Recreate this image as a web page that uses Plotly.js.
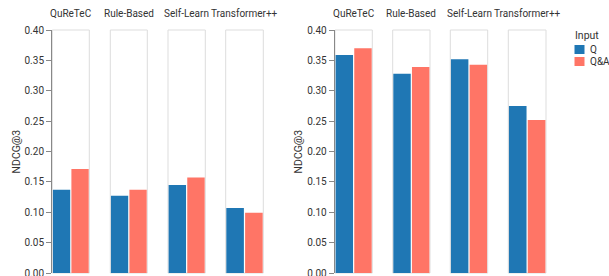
<!DOCTYPE html>
<html><head><meta charset="utf-8">
<script src="https://cdn.plot.ly/plotly-3.0.1.min.js"></script>
<style>html,body{margin:0;padding:0;background:#fff}</style>
</head><body><div id="chart" style="width:609px;height:276px"></div>
<script>
const models = ['QuReTeC','Rule-Based','Self-Learn','Transformer++'];
const inputs = ['Q','Q&A'];
const leftQ  = [0.137,0.127,0.145,0.107];
const leftQA = [0.171,0.137,0.157,0.099];
const rightQ  = [0.359,0.328,0.352,0.275];
const rightQA = [0.370,0.339,0.343,0.252];
const yTicks = [0,0.05,0.10,0.15,0.20,0.25,0.30,0.35,0.40];
const legendTitle = 'Input';

const W = 609, TOP = 30, BOT = 273;
const colors = {'Q':'#1f77b4','Q&A':'#ff7566'};
const panelPx = [[52.3,89.3],[110.3,147.3],[168,205.3],[225.7,263.3],
                 [335,372.3],[392.7,430],[450.3,487.7],[508.3,546]];
const font = 'Roboto, "Open Sans", sans-serif';
const py = p => (BOT - p) / (BOT - TOP);

const data = [];
const layout = {
  width: 609, height: 276,
  margin: {l:0, r:0, t:TOP, b:276-BOT, autoexpand:false},
  paper_bgcolor:'#fff', plot_bgcolor:'rgba(0,0,0,0)',
  barmode:'overlay', bargap:0.065,
  font:{family:font, size:10, color:'#333'},
  showlegend:false,
  shapes:[], annotations:[]
};

const sides = [[leftQ,leftQA,'y'],[rightQ,rightQA,'y2']];
sides.forEach((s, si) => {
  const yname = s[2];
  const yax = si===0 ? 'yaxis' : 'yaxis2';
  layout[yax] = {
    range:[0,0.4], tickvals:yTicks, tickformat:'.2f', ticks:'outside', ticklen:5,
    tickcolor:'#888', showline:true, linecolor:'#888', linewidth:1, showgrid:false,
    zeroline:false, anchor:'free', position:(si===0?51:333.7)/W,
    tickfont:{size:10, color:'#333'}, domain:[0,1], automargin:false,
    ticklabeloverflow:'allow'
  };
  layout.annotations.push({text:'NDCG@3', textangle:-90, xref:'paper', yref:'paper',
    x:(si===0?16:298)/W, y:0.5, xanchor:'center', yanchor:'middle', showarrow:false,
    font:{size:10.5, color:'#333'}});
  models.forEach((m, mi) => {
    const idx = si*4 + mi + 1;
    const xname = 'x' + (idx===1?'':idx);
    const xax = 'xaxis' + (idx===1?'':idx);
    const px = panelPx[idx-1];
    layout[xax] = {domain:[px[0]/W, px[1]/W], anchor:yname, type:'category',
      categoryarray:inputs, range:[-0.5,1.5], showticklabels:false, ticks:'',
      showgrid:false, zeroline:false, showline:false, fixedrange:true, automargin:false};
    layout.shapes.push({type:'rect', xref:xname+' domain', yref:yname+' domain',
      x0:0, x1:1, y0:0, y1:1, line:{color:'#ddd', width:1}, layer:'below'});
    layout.annotations.push({text:m, xref:xname+' domain', x:0.5, yref:'paper', y:1,
      yanchor:'bottom', yshift:9, showarrow:false, font:{size:10, color:'#333'}});
    const vals = [s[0][mi], s[1][mi]];
    inputs.forEach((inp, ii) => {
      data.push({type:'bar', x:[inp], y:[vals[ii]], xaxis:xname, yaxis:yname,
        name:inp, legendgroup:inp, showlegend:false,
        marker:{color:colors[inp], line:{width:0}}, hoverinfo:'skip'});
    });
  });
});

// legend (drawn as real text + swatches)
layout.annotations.push({text:legendTitle, xref:'paper', yref:'paper', x:573/W, y:py(35),
  xanchor:'left', yanchor:'middle', showarrow:false, font:{size:10.5, color:'#333'}});
inputs.forEach((inp, i) => {
  const cy = 49.5 + i*12;
  layout.shapes.push({type:'rect', xref:'paper', yref:'paper', x0:574.5/W, x1:584.5/W,
    y0:py(cy-4.5), y1:py(cy+4.5), fillcolor:colors[inp], line:{width:0}});
  layout.annotations.push({text:inp, xref:'paper', yref:'paper', x:588/W, y:py(cy),
    xanchor:'left', yanchor:'middle', showarrow:false, font:{size:10, color:'#333'}});
});

Plotly.newPlot('chart', data, layout, {staticPlot:true, displayModeBar:false});
</script></body></html>
